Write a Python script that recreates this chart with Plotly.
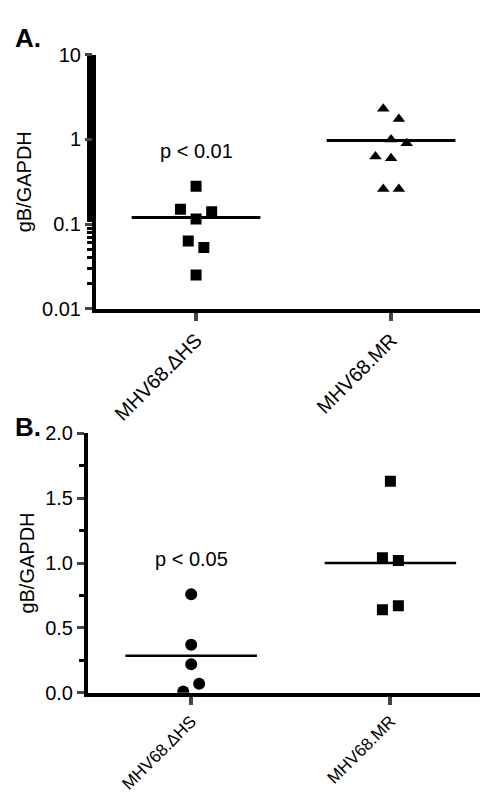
import plotly.graph_objects as go
import math

categories = ["MHV68.ΔHS", "MHV68.MR"]
# Panel A (log scale)
a_hs_vals = [0.28, 0.15, 0.14, 0.115, 0.063, 0.053, 0.025]
a_hs_off = [0.0, -0.08, 0.08, 0.0, -0.04, 0.04, 0.0]
a_mr_vals = [2.3, 1.75, 1.0, 0.9, 0.63, 0.6, 0.26, 0.26]
a_mr_off = [-0.04, 0.04, 0.0, 0.08, -0.08, 0.0, -0.04, 0.04]
a_means = [0.12, 0.97]
# Panel B (linear)
b_hs_vals = [0.76, 0.37, 0.22, 0.07, 0.01]
b_hs_off = [0.0, 0.0, 0.0, 0.04, -0.04]
b_mr_vals = [1.63, 1.04, 1.02, 0.64, 0.67]
b_mr_off = [0.0, -0.04, 0.04, -0.04, 0.04]
b_means = [0.285, 1.0]

fig = go.Figure()
def pts(vals, offs, base, sym, xa, ya, size=11):
    fig.add_trace(go.Scatter(x=[base + o for o in offs], y=vals, mode="markers",
                             marker=dict(symbol=sym, color="black", size=size),
                             xaxis=xa, yaxis=ya, showlegend=False))
def mean_line(m, base, xa, ya, w):
    fig.add_trace(go.Scatter(x=[base - 0.33, base + 0.33], y=[m, m], mode="lines",
                             line=dict(color="black", width=w), xaxis=xa, yaxis=ya, showlegend=False))

pts(a_hs_vals, a_hs_off, 0, "square", "x", "y")
pts(a_mr_vals, a_mr_off, 1, "triangle-up", "x", "y")
mean_line(a_means[0], 0, "x", "y", 3)
mean_line(a_means[1], 1, "x", "y", 3)
pts(b_hs_vals, b_hs_off, 0, "circle", "x2", "y2", 12)
pts(b_mr_vals, b_mr_off, 1, "square", "x2", "y2", 11)
mean_line(b_means[0], 0, "x2", "y2", 2.5)
mean_line(b_means[1], 1, "x2", "y2", 2.5)

font = dict(family="Arial, Liberation Sans", size=20, color="black")
fontb = dict(family="Arial, Liberation Sans", size=17, color="black")
xcommon = dict(tickmode="array", tickvals=[0, 1], ticktext=categories, tickangle=-45,
               showline=True, linewidth=4, linecolor="black", ticks="outside", ticklen=8,
               tickwidth=4, showgrid=False, zeroline=False)
ycommon = dict(showline=True, linewidth=4, linecolor="black", ticks="outside", ticklen=7,
               tickwidth=3, showgrid=False, zeroline=False, tickfont=font,
               title=dict(text="gB/GAPDH", font=font, standoff=6))

fig.update_layout(
    width=488, height=800, margin=dict(l=0, r=0, t=0, b=0),
    plot_bgcolor="white", paper_bgcolor="white", font=font,
    xaxis=dict(**xcommon, tickfont=font, domain=[88/488, 480/488], range=[-0.513, 1.497], anchor="y"),
    yaxis=dict(**ycommon, type="log", domain=[0.6275, 0.954], range=[-2, 1], anchor="x",
               tickvals=[0.01, 0.1, 1, 10], ticktext=["0.01", "0.1", "1", "10"],
               minor=dict(ticks="outside", ticklen=5, tickwidth=3, tickcolor="black")),
    xaxis2=dict(**xcommon, tickfont=fontb, domain=[80/488, 480/488], range=[-0.518, 1.49], anchor="y2"),
    yaxis2=dict(**ycommon, domain=[0.134, 0.4675], range=[0, 2], anchor="x2",
                tickvals=[0, 0.5, 1.0, 1.5, 2.0], ticktext=["0.0", "0.5", "1.0", "1.5", "2.0"],
                minor=dict(ticks="outside", ticklen=5, tickwidth=3, tickcolor="black", dtick=0.25)),
    annotations=[
        dict(text="<b>A.</b>", x=5/488, y=1-2/800, xref="paper", yref="paper", xanchor="left", yanchor="top",
             showarrow=False, font=dict(family="Arial, Liberation Sans", size=26, color="black")),
        dict(text="<b>B.</b>", x=5/488, y=1-402/800, xref="paper", yref="paper", xanchor="left", yanchor="top",
             showarrow=False, font=dict(family="Arial, Liberation Sans", size=26, color="black")),
        dict(text="p < 0.01", x=0, y=math.log10(0.74), xref="x", yref="y", showarrow=False, font=font),
        dict(text="p < 0.05", x=0, y=1.03, xref="x2", yref="y2", showarrow=False, font=font),
    ],
)
fig.write_html("out.html")
